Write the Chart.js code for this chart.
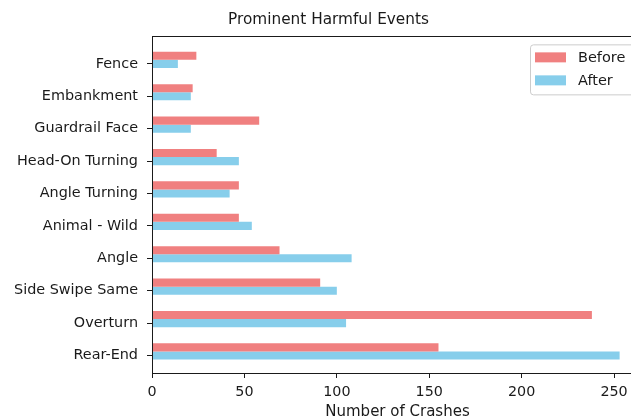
<!DOCTYPE html>
<html>
<head>
<meta charset="utf-8">
<script src="https://cdn.jsdelivr.net/npm/chart.js@4/dist/chart.umd.min.js"></script>
<style>
  html, body { margin: 0; padding: 0; background: #fff; overflow: hidden; }
  #wrap { width: 657px; height: 420px; }
</style>
</head>
<body>
<div id="wrap"><canvas id="c" width="657" height="420"></canvas></div>
<script>
// Crash counts per harmful event, before and after
const categories = ['Fence', 'Embankment', 'Guardrail Face', 'Head-On Turning', 'Angle Turning',
                    'Animal - Wild', 'Angle', 'Side Swipe Same', 'Overturn', 'Rear-End'];
const before = [24, 22, 58, 35, 47, 47, 69, 91, 238, 155];
const after  = [14, 21, 21, 47, 42, 54, 108, 100, 105, 253];
const xTicks = [0, 50, 100, 150, 200, 250];

const FONT = 'DejaVu Sans';
const INK = '#1a1a1a';
const seriesColors = ['#F08080', '#87CEEB'];

// Axes frame on all four sides
const framePlugin = {
  id: 'frame',
  afterDatasetsDraw(chart) {
    const a = chart.chartArea, ctx = chart.ctx;
    ctx.save();
    ctx.strokeStyle = INK;
    ctx.lineWidth = 1;
    ctx.strokeRect(Math.round(a.left) + 0.5, Math.round(a.top) + 0.5,
                   Math.round(a.right - a.left), Math.round(a.bottom - a.top));
    ctx.restore();
  }
};

// Boxed legend in the upper-right corner of the plot
const boxLegend = {
  id: 'boxLegend',
  afterDraw(chart) {
    const a = chart.chartArea, ctx = chart.ctx;
    const items = chart.data.datasets.filter(d => d.label);
    const left = a.right - 113, top = a.top + 8;
    const w = 106, h = 50, r = 3;
    ctx.save();
    ctx.fillStyle = 'rgba(255,255,255,0.8)';
    ctx.strokeStyle = '#cccccc';
    ctx.lineWidth = 1;
    ctx.beginPath();
    ctx.roundRect(left + 0.5, top + 0.5, w, h, r);
    ctx.fill();
    ctx.stroke();
    ctx.font = '14.5px "' + FONT + '"';
    ctx.textBaseline = 'middle';
    ctx.textAlign = 'left';
    items.forEach((d, i) => {
      const cy = top + 13 + i * 23;
      ctx.fillStyle = d.backgroundColor;
      ctx.fillRect(left + 5, cy - 5, 31, 10);
      ctx.fillStyle = INK;
      ctx.fillText(d.label, left + 48, cy + 1);
    });
    ctx.restore();
  }
};

new Chart(document.getElementById('c'), {
  type: 'bar',
  data: {
    datasets: [
      { label: 'Before', data: before.map((v, i) => ({ x: v, y: i })), backgroundColor: seriesColors[0] },
      { label: 'After',  data: after.map((v, i) => ({ x: v, y: i })),  backgroundColor: seriesColors[1] },
      // empty third slot: keeps each tick centred on the After bar
      { label: '', data: [], backgroundColor: 'rgba(0,0,0,0)' }
    ]
  },
  options: {
    indexAxis: 'y',
    responsive: false,
    animation: false,
    devicePixelRatio: 1,
    categoryPercentage: 0.75,
    barPercentage: 1.0,
    layout: { padding: { left: 14, right: 14, top: 0, bottom: 0 } },
    plugins: {
      legend: { display: false },
      tooltip: { enabled: false },
      title: {
        display: true,
        text: 'Prominent Harmful Events',
        color: INK,
        font: { family: FONT, size: 15.3, weight: 'normal' },
        padding: { top: 11, bottom: 7 }
      }
    },
    scales: {
      x: {
        type: 'linear',
        min: 0,
        max: 265.65,
        offset: false,
        afterBuildTicks(scale) { scale.ticks = xTicks.map(v => ({ value: v })); },
        afterFit(scale) { scale.height = 47; },
        grid: { offset: false, drawOnChartArea: false, drawTicks: true, tickLength: 5, color: INK },
        border: { display: true, color: INK, width: 1 },
        ticks: { color: INK, font: { family: FONT, size: 14.3 }, padding: 6, maxRotation: 0 },
        title: {
          display: true,
          text: 'Number of Crashes',
          color: INK,
          font: { family: FONT, size: 15, lineHeight: 1 },
          padding: { top: 0, bottom: 0 }
        }
      },
      y: {
        type: 'linear',
        reverse: true,
        min: -0.85,
        max: 9.54,
        offset: false,
        afterBuildTicks(scale) { scale.ticks = categories.map((c, i) => ({ value: i })); },
        afterFit(scale) { scale.width = 138; },
        grid: { offset: false, drawOnChartArea: false, drawTicks: true, tickLength: 5, color: INK },
        border: { display: true, color: INK, width: 1 },
        ticks: {
          color: INK,
          font: { family: FONT, size: 14.4 },
          padding: 9,
          callback: (v) => categories[v]
        }
      }
    }
  },
  plugins: [framePlugin, boxLegend]
});
</script>
</body>
</html>
